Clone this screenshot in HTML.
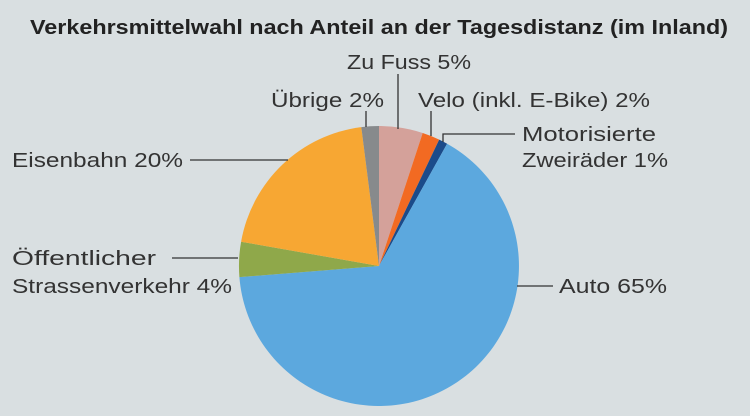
<!DOCTYPE html>
<html><head><meta charset="utf-8"><style>
html,body{margin:0;padding:0;background:#d9dfe1;}
svg{display:block;font-family:"Liberation Sans",sans-serif;}
</style></head><body>
<svg width="750" height="416" viewBox="0 0 750 416">
<rect width="750" height="416" fill="#d9dfe1"/>
<text x="30" y="34" font-size="20" font-weight="bold" fill="#222" textLength="698" lengthAdjust="spacingAndGlyphs">Verkehrsmittelwahl nach Anteil an der Tagesdistanz (im Inland)</text>
<g stroke="none">
<path d="M379,266 L379,126 A140,140 0 0 1 422.7,133 Z" fill="#d4a19a"/>
<path d="M379,266 L422.7,133 A140,140 0 0 1 439.2,139.6 Z" fill="#f26a22"/>
<path d="M379,266 L439.2,139.6 A140,140 0 0 1 447.1,143.7 Z" fill="#1b4b8a"/>
<path d="M379,266 L447.1,143.7 A140,140 0 1 1 239.4,277.1 Z" fill="#5ca8de"/>
<path d="M379,266 L239.4,277.1 A140,140 0 0 1 241.1,241.7 Z" fill="#8fa84a"/>
<path d="M379,266 L241.1,241.7 A140,140 0 0 1 361.3,127.1 Z" fill="#f7a733"/>
<path d="M379,266 L361.3,127.1 A140,140 0 0 1 379,126 Z" fill="#878a8c"/>
</g>
<g stroke="#333" stroke-width="1.3" fill="none">
<line x1="398" y1="74" x2="398" y2="129"/>
<line x1="366" y1="111" x2="366" y2="127"/>
<line x1="431" y1="111" x2="431" y2="136"/>
<polyline points="443,142 443,134 515,134"/>
<line x1="190" y1="160" x2="288" y2="160"/>
<line x1="172" y1="258" x2="238" y2="258"/>
<line x1="517" y1="286" x2="553" y2="286"/>
</g>
<g font-size="20" fill="#333" lengthAdjust="spacingAndGlyphs">
<text x="347" y="69" textLength="124" lengthAdjust="spacingAndGlyphs">Zu Fuss 5%</text>
<text x="271" y="107" textLength="113" lengthAdjust="spacingAndGlyphs">Übrige 2%</text>
<text x="418" y="107" textLength="232" lengthAdjust="spacingAndGlyphs">Velo (inkl. E-Bike) 2%</text>
<text x="522" y="141" textLength="134" lengthAdjust="spacingAndGlyphs">Motorisierte</text>
<text x="522" y="167" textLength="146" lengthAdjust="spacingAndGlyphs">Zweiräder 1%</text>
<text x="12" y="167" textLength="171" lengthAdjust="spacingAndGlyphs">Eisenbahn 20%</text>
<text x="12" y="265" textLength="144" lengthAdjust="spacingAndGlyphs">Öffentlicher</text>
<text x="12" y="293" textLength="220" lengthAdjust="spacingAndGlyphs">Strassenverkehr 4%</text>
<text x="559" y="293" textLength="108" lengthAdjust="spacingAndGlyphs">Auto 65%</text>
</g>
</svg>
</body></html>
